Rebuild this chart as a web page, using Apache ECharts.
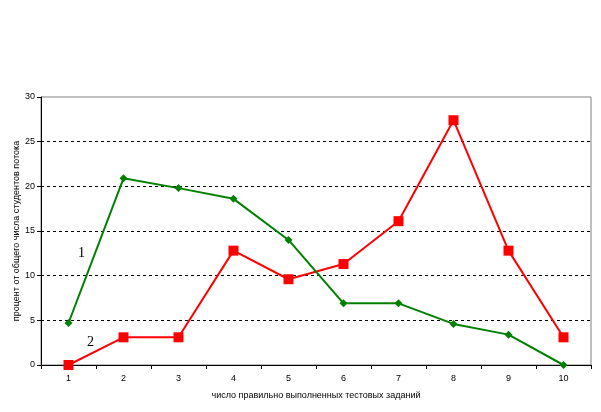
<!DOCTYPE html>
<html><head><meta charset="utf-8">
<script src="https://cdn.jsdelivr.net/npm/echarts@6/dist/echarts.min.js"></script>
<style>html,body{margin:0;padding:0;background:#fff}#c{width:601px;height:412px}</style>
</head><body><div id="c"></div>
<script>
const categories = ['1','2','3','4','5','6','7','8','9','10'];
const series1 = [4.7, 20.9, 19.8, 18.6, 14.0, 6.9, 6.9, 4.6, 3.4, 0];
const series2 = [0, 3.1, 3.1, 12.8, 9.6, 11.3, 16.1, 27.4, 12.8, 3.1];
const yTicks = [0, 5, 10, 15, 20, 25, 30];
const xTitle = 'число правильно выполненных тестовых заданий';
const yTitle = 'процент от общего числа студентов потока';

const chart = echarts.init(document.getElementById('c'), null, {renderer:'canvas'});
const ff = '"Liberation Sans", Arial, sans-serif';
chart.setOption({
  animation:false,
  backgroundColor:'#fff',
  grid:{left:41, right:10, top:97, bottom:47, containLabel:false, outerBoundsMode:'none',
    show:true, borderColor:'#808080', borderWidth:1, backgroundColor:'transparent'},
  xAxis:{type:'category', data:categories, boundaryGap:true,
    axisLine:{lineStyle:{color:'#000', width:1}},
    axisTick:{show:true, alignWithLabel:false, length:4, lineStyle:{color:'#000'}},
    axisLabel:{color:'#000', fontSize:9, fontFamily:ff, margin:9},
    name:xTitle, nameLocation:'middle', nameGap:26, nameMoveOverlap:false,
    nameTextStyle:{color:'#000', fontSize:9, fontFamily:ff}},
  yAxis:{type:'value', min:yTicks[0], max:yTicks[yTicks.length-1], interval:5,
    axisLine:{show:true, lineStyle:{color:'#000', width:1}},
    axisTick:{show:true, length:4, lineStyle:{color:'#000'}},
    axisLabel:{color:'#000', fontSize:9, fontFamily:ff, margin:6},
    splitLine:{show:true, showMaxLine:false, lineStyle:{color:'#000', type:[3,3], width:1}},
    name:yTitle, nameLocation:'middle', nameGap:20, nameRotate:90, nameMoveOverlap:false,
    nameTextStyle:{color:'#000', fontSize:9, fontFamily:ff}},
  series:[
    {type:'line', data:series1, symbol:'diamond', symbolSize:8,
      lineStyle:{color:'#008000', width:2}, itemStyle:{color:'#008000'}, z:3},
    {type:'line', data:series2, symbol:'rect', symbolSize:10,
      lineStyle:{color:'#ff0000', width:2}, itemStyle:{color:'#ff0000'}, z:2}
  ],
  graphic:[
    {type:'text', left:78, top:246, style:{text:'1', fill:'#000', font:'14px "Liberation Serif", "Times New Roman", serif'}},
    {type:'text', left:87, top:335, style:{text:'2', fill:'#000', font:'14px "Liberation Serif", "Times New Roman", serif'}}
  ]
});
</script></body></html>
